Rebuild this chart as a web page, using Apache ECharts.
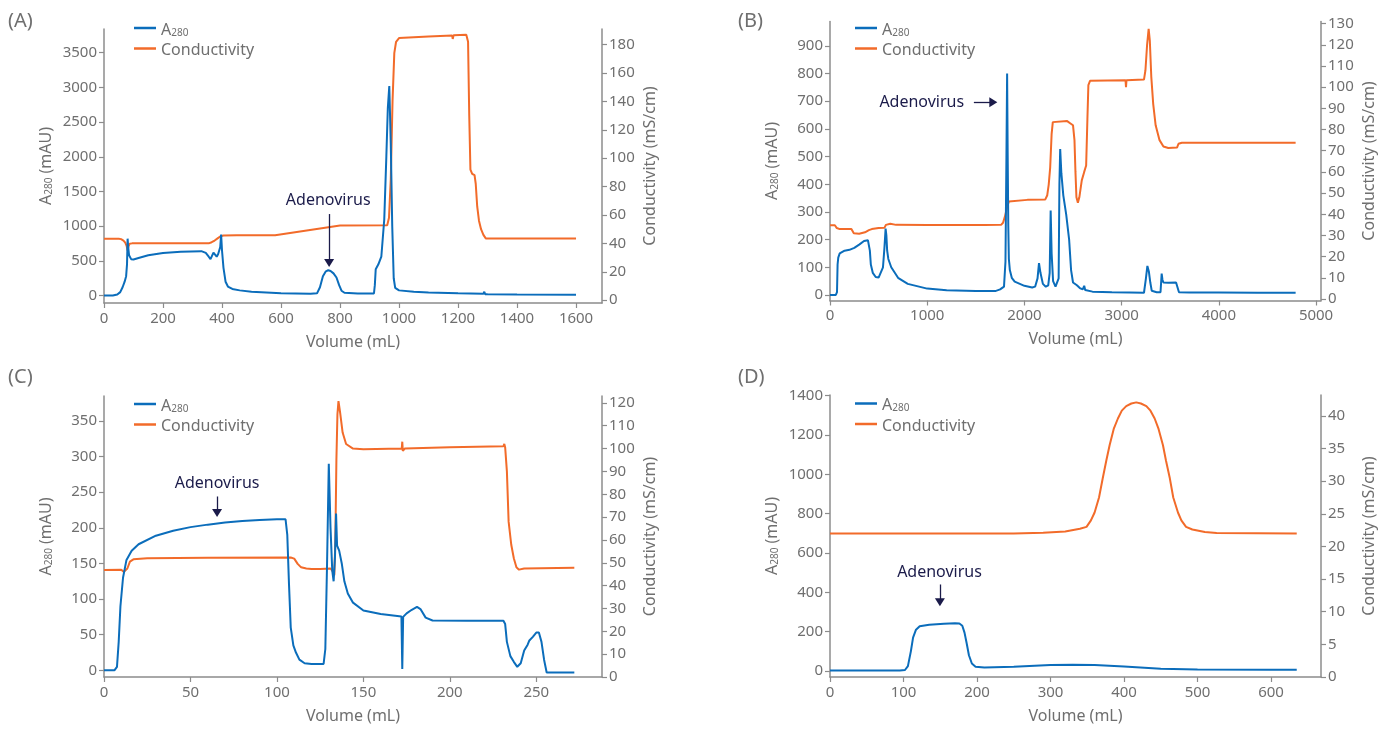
<!DOCTYPE html>
<html>
<head>
<meta charset="utf-8">
<script src="https://cdn.jsdelivr.net/npm/echarts@6/dist/echarts.min.js"></script>
<style>
  html, body { margin: 0; padding: 0; background: #fff; }
  #chart { width: 1386px; height: 729px; }
</style>
</head>
<body>
<div id="chart"></div>
<script>
// ---- Run (A): [volume mL, value] ----
const a280A = [[0,0],[30,0],[45,15],[55,50],[63,120],[70,200],[75,280],[78,450],[80,820],[82,700],[85,580],[92,525],[100,520],[120,545],[150,580],[200,615],[260,630],[330,640],[345,615],[355,560],[361,525],[366,540],[371,620],[376,600],[382,560],[387,600],[391,615],[394,700],[397,880],[400,650],[405,400],[412,200],[420,130],[435,95],[460,75],[500,55],[600,35],[700,28],[722,32],[732,120],[742,280],[752,350],[760,365],[768,355],[778,320],[788,260],[797,150],[805,70],[815,40],[860,30],[915,30],[918,150],[921,380],[930,450],[940,560],[950,1100],[957,2000],[962,2700],[967,3020],[972,2200],[977,1000],[982,250],[987,110],[1000,75],[1050,55],[1100,45],[1200,32],[1286,25],[1289,55],[1292,20],[1300,18],[1400,15],[1600,12]];
const condA = [[0,43.3],[50,43.3],[58,43],[66,42],[72,40.5],[77,38],[80,35],[83,38],[87,39.8],[95,40],[200,40],[355,40],[365,40.8],[375,42],[385,43.5],[395,45],[405,45.6],[450,45.8],[580,45.8],[800,52.6],[960,52.8],[966,58],[972,85],[978,140],[984,174],[990,182],[1000,184.6],[1050,185.2],[1100,185.8],[1180,186.5],[1182,184],[1185,186.6],[1228,187],[1234,182],[1238,130],[1242,92],[1248,89],[1256,88],[1260,82],[1265,66],[1271,56],[1278,50],[1286,46],[1294,43.5],[1400,43.5],[1600,43.5]];

// ---- Run (B) ----
const a280B = [[0,0],[60,0],[72,10],[78,110],[85,135],[100,150],[150,160],[200,163],[250,170],[300,182],[350,195],[390,198],[400,195],[410,160],[420,110],[440,80],[470,65],[500,63],[520,70],[545,100],[560,170],[572,240],[580,215],[588,160],[600,130],[630,100],[700,62],[800,40],[1000,23],[1200,17],[1500,14],[1700,14],[1750,20],[1790,30],[1805,120],[1815,500],[1822,800],[1828,500],[1834,250],[1840,130],[1850,90],[1870,62],[1900,48],[2000,33],[2080,27],[2110,30],[2135,60],[2150,115],[2165,80],[2190,40],[2220,30],[2245,35],[2260,80],[2270,305],[2280,150],[2295,50],[2320,30],[2340,30],[2352,60],[2360,400],[2368,527],[2380,440],[2400,360],[2430,290],[2460,200],[2480,90],[2500,45],[2540,35],[2570,25],[2600,20],[2615,33],[2625,18],[2640,15],[2700,12],[2900,10],[3080,9],[3090,14],[3100,8],[3230,8],[3250,60],[3265,105],[3280,85],[3295,45],[3310,15],[3330,10],[3360,10],[3400,10],[3412,77],[3420,55],[3430,45],[3445,45],[3480,44],[3560,45],[3580,40],[3590,10],[3600,9],[3700,9],[4000,9],[4400,8],[4790,8]];
const condB = [[0,34.8],[50,34.8],[70,33.5],[100,33],[220,33],[245,31],[300,30.8],[360,31.5],[400,32.5],[430,33],[500,33.5],[560,33.6],[575,35],[590,35.8],[620,35.5],[680,35],[1000,34.9],[1590,34.9],[1600,34.3],[1610,35],[1760,35],[1780,36],[1800,39],[1820,43],[1840,46],[1860,46.6],[2030,46.8],[2035,46],[2040,46.8],[2215,47],[2235,49],[2250,54],[2265,62],[2280,78],[2292,83.5],[2310,84],[2440,84],[2470,83],[2500,82],[2515,75],[2525,60],[2535,48],[2550,45.5],[2565,48],[2590,56],[2615,60],[2635,63],[2648,85],[2658,101],[2675,103],[3040,103.3],[3045,100],[3050,103.3],[3230,103.6],[3245,108],[3262,120],[3278,127.5],[3290,122],[3305,105],[3325,92],[3350,82],[3390,75],[3430,72],[3480,71.3],[3570,71.5],[3585,73.3],[3620,73.8],[4790,73.8]];

// ---- Run (C) ----
const a280C = [[0,0],[6,0],[7.5,5],[8.5,40],[9.5,90],[11,130],[13,155],[16,168],[20,177],[30,189],[40,196],[50,201],[60,204.5],[70,207.5],[80,209.5],[90,211],[100,212],[105,212],[106,190],[107,120],[108,60],[109.5,35],[111,25],[113,15],[116,10],[120,9],[127,9],[128,30],[129,150],[130,290],[131,200],[132,140],[132.8,125],[133.6,160],[134.2,220],[134.8,175],[136,168],[137.5,150],[139,125],[141,108],[144,95],[150,84],[160,79],[172,75.5],[172.5,2],[173,75],[175,80],[178,85],[181,89],[183,86],[186,74],[190,70],[210,69.5],[231,69.5],[232,65],[233,40],[235,20],[237,12],[239,5],[241,10],[243,28],[245,36],[246,42],[248,47],[250,53],[251.5,53],[253,40],[254.5,15],[256,-3],[272,-3]];
const condC = [[0,46.8],[10,47],[11.5,46],[12.5,45.2],[13.5,47.5],[15,50.5],[17,51.5],[25,52],[60,52.2],[108,52.3],[110,51.8],[112,49.5],[114,48],[117,47.5],[120,47.3],[125,47.3],[131,47.5],[132.5,46],[133.2,44.5],[133.8,60],[134.4,95],[135,115],[135.6,120.8],[136.5,116],[138,107],[140,102],[144,100],[150,99.7],[172.2,100],[172.5,103],[172.8,99],[174,100],[200,100.6],[231,101],[231.5,102],[232,100.5],[233,90],[234,68],[235.5,58],[237,52],[238.5,48],[240,47],[243,47.5],[272,47.8]];

// ---- Run (D) ----
const a280D = [[0,2],[95,2],[102,5],[106,25],[110,100],[113,170],[117,210],[122,228],[135,235],[155,240],[170,243],[176,242],[180,230],[183,195],[186,140],[189,80],[193,38],[198,22],[210,18],[250,22],[300,30],[330,32],[360,30],[400,23],[450,12],[500,8],[600,6],[635,6]];
const condD = [[0,22],[250,22],[290,22.1],[320,22.3],[340,22.7],[349,23],[355,24],[360,25.2],[366,27.5],[371,30.4],[376,33.2],[380.4,35.5],[386,38],[391.7,39.6],[397,40.8],[403,41.5],[410,41.9],[416.7,42.07],[423,41.9],[430.4,41.5],[436,40.8],[441.7,39.6],[447,38],[453,35.5],[457,33.2],[462.4,30.4],[467,27.5],[473.4,25.2],[478,24],[484.4,23],[493,22.6],[510,22.2],[526,22.05],[635,22]];

// ---- Tick labels ----
const volTicksA = [0,200,400,600,800,1000,1200,1400,1600];
const a280TicksA = [0,500,1000,1500,2000,2500,3000,3500];
const condTicksA = [0,20,40,60,80,100,120,140,160,180];
const volTicksB = [0,1000,2000,3000,4000,5000];
const a280TicksB = [0,100,200,300,400,500,600,700,800,900];
const condTicksB = [0,10,20,30,40,50,60,70,80,90,100,110,120,130];
const volTicksC = [0,50,100,150,200,250];
const a280TicksC = [0,50,100,150,200,250,300,350];
const condTicksC = [0,10,20,30,40,50,60,70,80,90,100,110,120];
const volTicksD = [0,100,200,300,400,500,600];
const a280TicksD = [0,200,400,600,800,1000,1200,1400];
const condTicksD = [0,5,10,15,20,25,30,35,40];

const panelLetters = ['(A)','(B)','(C)','(D)'];
const seriesNames = ['A280','Conductivity'];
const peakLabel = 'Adenovirus';

const FONT = '"Noto Sans", "Open Sans", sans-serif';
const GRAY = '#6f6f6f';
const AXIS = '#8c8c8c';
const BLUE = '#0b6dbb';
const ORANGE = '#f26b2a';
const NAVY = '#1b1b4a';

const panels = [
  { grid:{left:104, top:29, width:498, height:274}, x:[0,1688], yl:[-107,3842], yr:[-2,191],
    xt:volTicksA, ylt:a280TicksA, yrt:condTicksA, a280:a280A, cond:condA,
    legend:{left:134, top:22}, letter:{left:3, top:6},
    arrow:[[763,1175],[763,470]], text:{coord:[760,1370], pos:'inside'} },
  { grid:{left:830, top:21.5, width:491, height:279}, x:[0,5051], yl:[-20,988], yr:[-0.7,131],
    xt:volTicksB, ylt:a280TicksB, yrt:condTicksB, a280:a280B, cond:condB,
    legend:{left:855, top:22}, letter:{left:733, top:6},
    arrow:[[1480,696],[1680,696]], text:{coord:[1385,696], pos:'left'} },
  { grid:{left:104, top:396, width:498, height:281}, x:[0,288], yl:[-9.3,385], yr:[0,123],
    xt:volTicksC, ylt:a280TicksC, yrt:condTicksC, a280:a280C, cond:condC,
    legend:{left:134, top:398}, letter:{left:3, top:362},
    arrow:[[65.4,244],[65.4,221]], text:{coord:[65.4,263], pos:'inside'} },
  { grid:{left:830, top:395, width:491, height:282}, x:[0,668], yl:[-30.5,1403.5], yr:[0,43.2],
    xt:volTicksD, ylt:a280TicksD, yrt:condTicksD, a280:a280D, cond:condD,
    legend:{left:855, top:397.5}, letter:{left:733, top:362},
    arrow:[[149.5,440],[149.5,350]], text:{coord:[149,502], pos:'inside'} }
];

const rich = {
  m: { fontSize: 16, color: GRAY, fontFamily: FONT, lineHeight: 20, verticalAlign: 'bottom' },
  s: { fontSize: 10, color: GRAY, fontFamily: FONT, lineHeight: 8, verticalAlign: 'bottom' }
};

function axisBase(range, ticks) {
  return {
    type: 'value', min: range[0], max: range[1],
    axisLine: { show: true, onZero: false, lineStyle: { color: AXIS, width: 1.5 } },
    axisTick: { show: true, length: 5, customValues: ticks, lineStyle: { color: AXIS, width: 1.2 } },
    axisLabel: { customValues: ticks, formatter: v => String(v),
      fontSize: 15, color: GRAY, fontFamily: FONT, margin: 7 },
    splitLine: { show: false }
  };
}

const option = { animation: false, backgroundColor: '#fff',
  grid: [], xAxis: [], yAxis: [], series: [], legend: [], title: [] };

panels.forEach((p, i) => {
  option.grid.push(Object.assign({ containLabel: false }, p.grid));
  option.title.push({ text: panelLetters[i], left: p.letter.left, top: p.letter.top,
    textStyle: { fontSize: 20, fontWeight: 'normal', color: GRAY, fontFamily: FONT } });

  const xa = axisBase(p.x, p.xt);
  xa.gridIndex = i;
  xa.position = 'bottom';
  xa.axisLabel.margin = 8;
  xa.name = 'Volume (mL)';
  xa.nameLocation = 'middle';
  xa.nameGap = 31;
  xa.nameTextStyle = { fontSize: 16, color: GRAY, fontFamily: FONT };
  option.xAxis.push(xa);

  const yl = axisBase(p.yl, p.ylt);
  yl.gridIndex = i;
  yl.position = 'left';
  yl.name = '{m|A}{s|280}{m| (mAU)}';
  yl.nameLocation = 'middle';
  yl.nameRotate = 90;
  yl.nameGap = 50;
  yl.nameTextStyle = { rich };
  option.yAxis.push(yl);

  const yr = axisBase(p.yr, p.yrt);
  yr.gridIndex = i;
  yr.position = 'right';
  yr.name = 'Conductivity (mS/cm)';
  yr.nameLocation = 'middle';
  yr.nameRotate = 90;
  yr.nameGap = 40;
  yr.nameTextStyle = { fontSize: 16, color: GRAY, fontFamily: FONT };
  option.yAxis.push(yr);

  option.legend.push({
    left: p.legend.left, top: p.legend.top, orient: 'vertical', padding: 0,
    itemGap: 4.5, itemWidth: 22, itemHeight: 2.5, itemTextGap: 9, icon: 'rect',
    selectedMode: false, data: seriesNames,
    formatter: n => n === 'A280' ? '{m|A}{s|280}' : '{m|' + n + '}',
    textStyle: { rich }
  });

  option.series.push({
    name: seriesNames[1], type: 'line', xAxisIndex: i, yAxisIndex: 2 * i + 1,
    data: p.cond, showSymbol: false, symbol: 'none',
    lineStyle: { color: ORANGE, width: 2 }, itemStyle: { color: ORANGE }
  });
  option.series.push({
    name: seriesNames[0], type: 'line', xAxisIndex: i, yAxisIndex: 2 * i,
    data: p.a280, showSymbol: false, symbol: 'none',
    lineStyle: { color: BLUE, width: 2 }, itemStyle: { color: BLUE },
    markLine: {
      silent: true, symbol: ['none', 'triangle'], symbolSize: [10, 8],
      lineStyle: { color: NAVY, width: 1.3, type: 'solid' }, label: { show: false },
      data: [[{ coord: p.arrow[0] }, { coord: p.arrow[1] }]]
    },
    markPoint: {
      silent: true, symbol: 'rect', symbolSize: 1, itemStyle: { color: 'rgba(0,0,0,0)' },
      label: { show: true, position: p.text.pos, distance: 0, formatter: peakLabel,
        color: NAVY, fontSize: 16, fontFamily: FONT },
      data: [{ coord: p.text.coord }]
    }
  });
});

const chart = echarts.init(document.getElementById('chart'), null, { renderer: 'canvas' });
chart.setOption(option);
</script>
</body>
</html>
